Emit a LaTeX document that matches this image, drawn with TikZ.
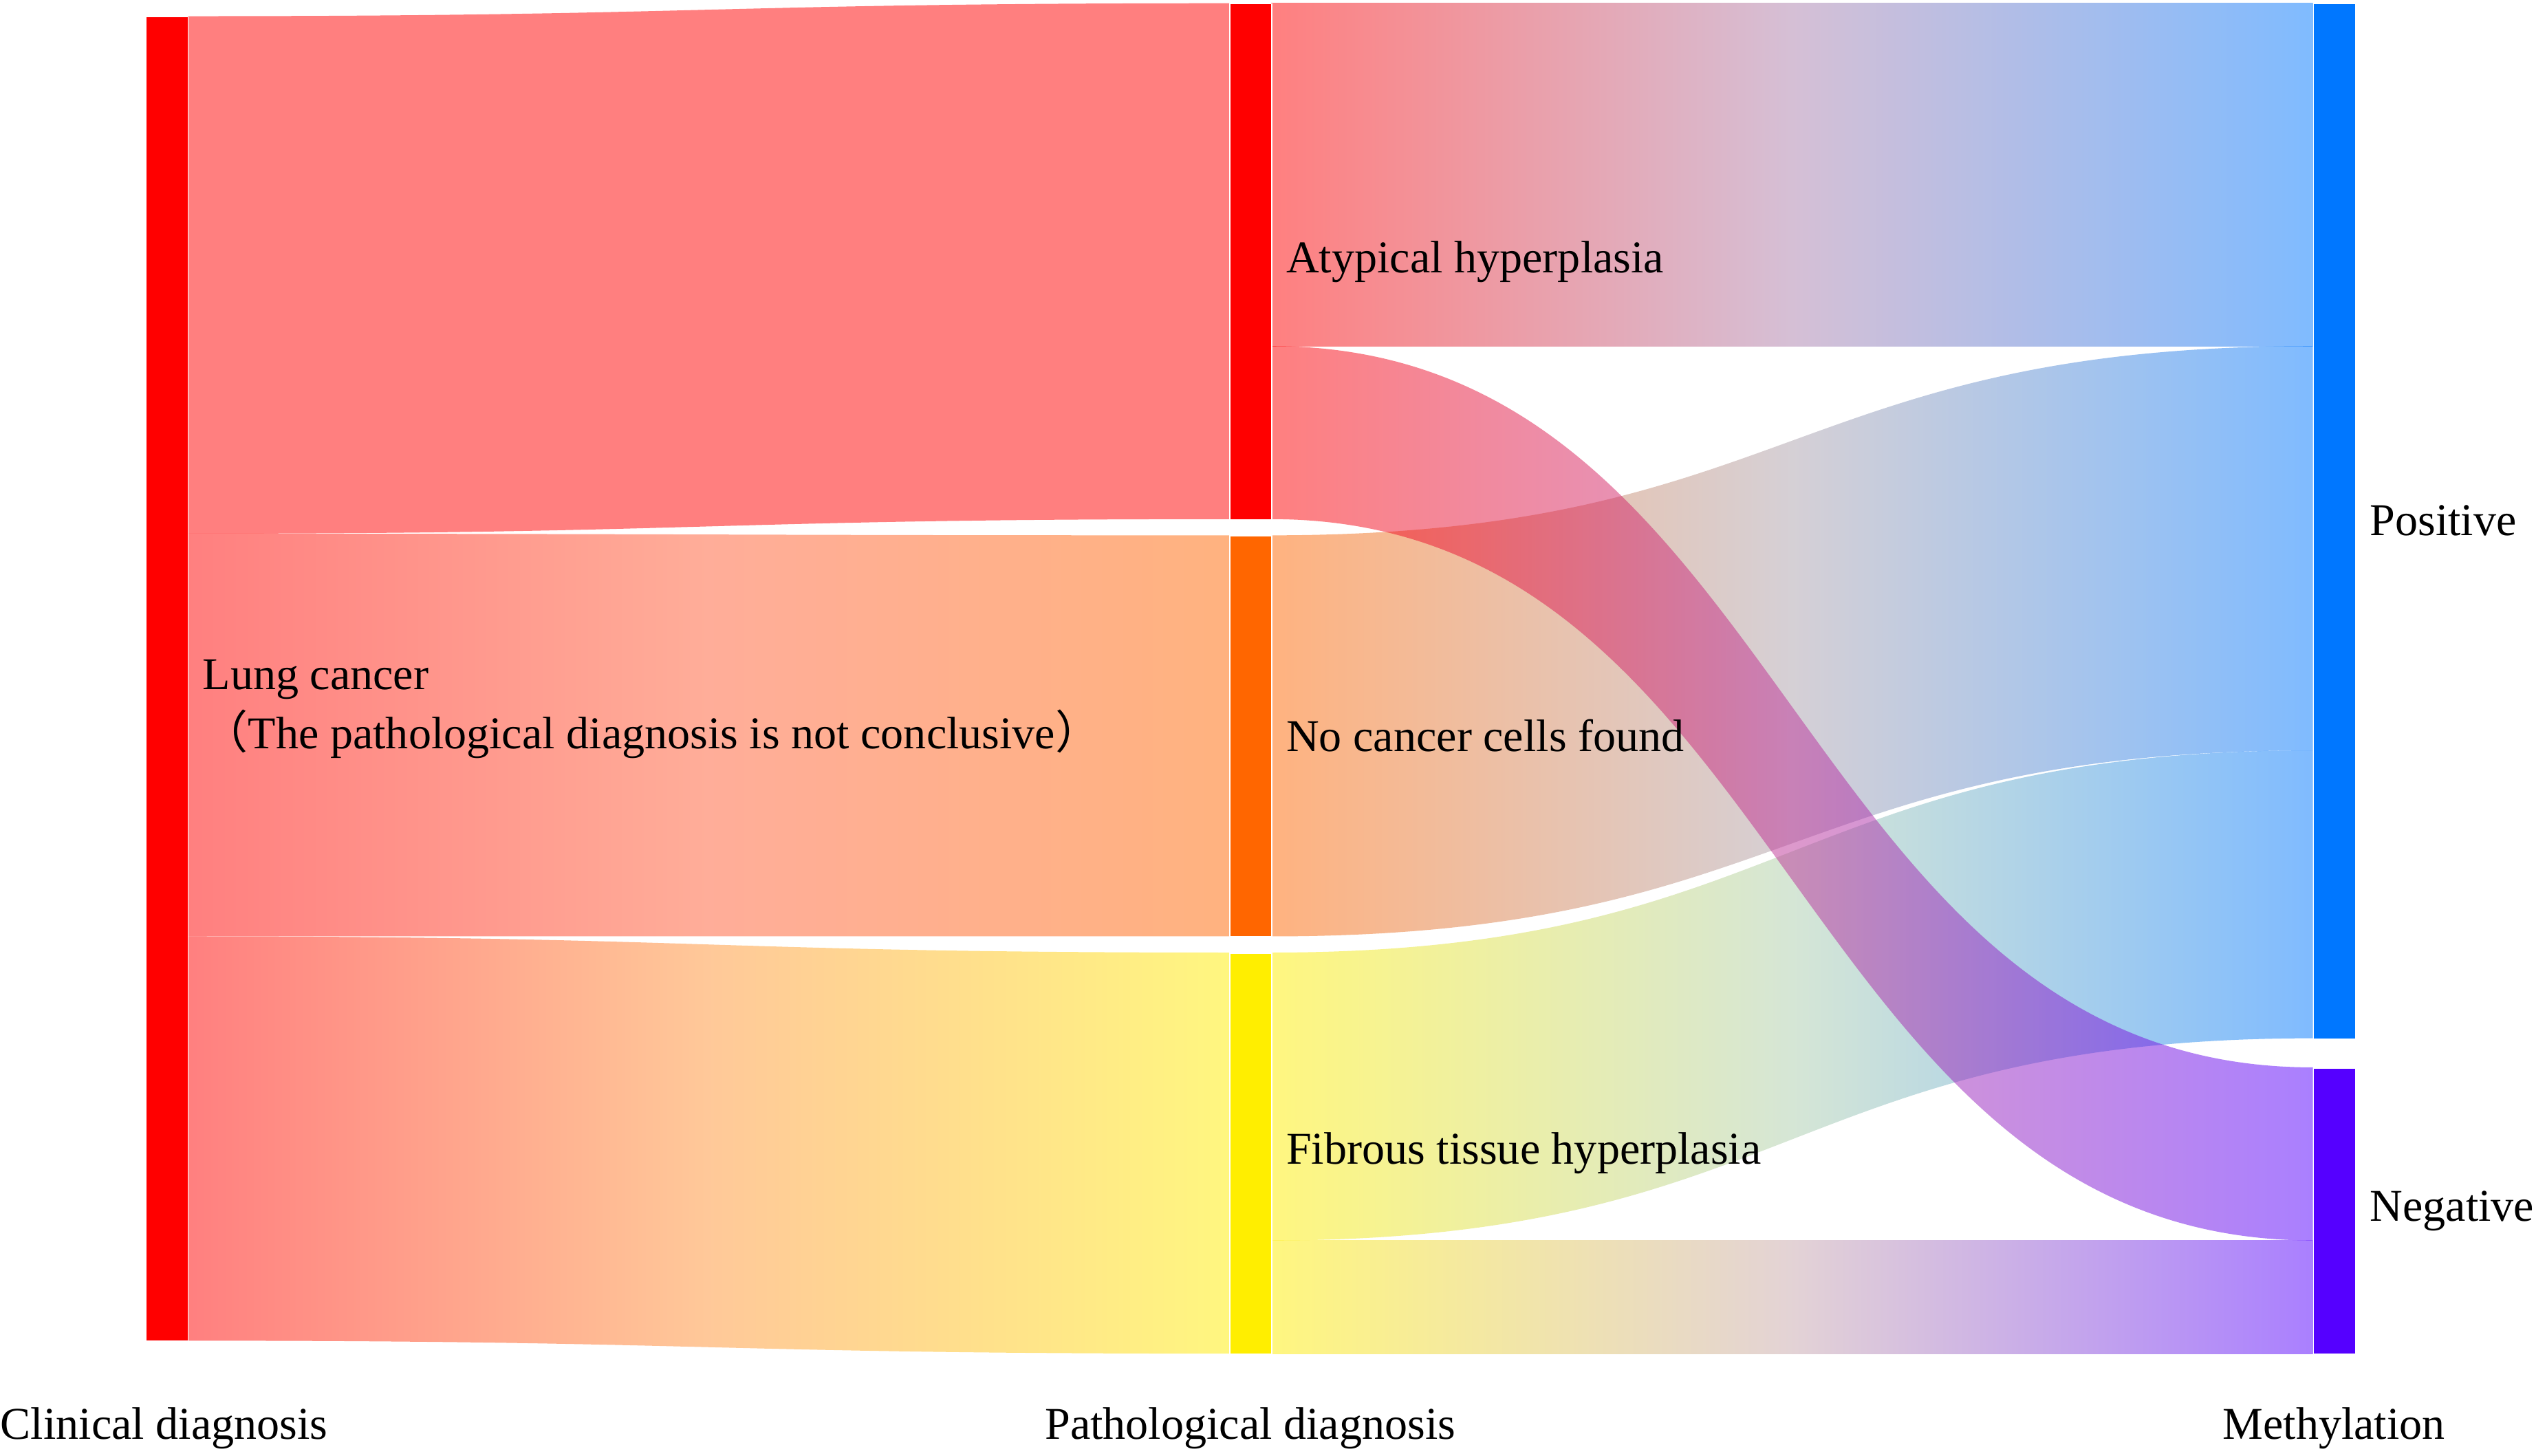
\documentclass[tikz,border=0pt]{standalone}
\usepackage{fontspec}
\setmainfont{Liberation Serif}
\newfontfamily\cjk{Noto Sans CJK SC}
\definecolor{cRed}{HTML}{FF0000}
\definecolor{cOrange}{HTML}{FF6600}
\definecolor{cYellow}{HTML}{FFEE00}
\definecolor{cBlue}{HTML}{0077FF}
\definecolor{cPurple}{HTML}{5500FF}
% band between two bars: x1, top1, bottom1, x2, top2, bottom2, colour1, colour2, middle
\newcommand{\flowband}[9]{%
  \shade[left color=#7, right color=#8, middle color={#9}, fill opacity=0.5]
    (#1,#2) .. controls ({(#1+#4)/2},#2) and ({(#1+#4)/2},#5) .. (#4,#5)
    -- (#4,#6) .. controls ({(#1+#4)/2},#6) and ({(#1+#4)/2},#3) .. (#1,#3) -- cycle;}
\tikzset{
  bar/.style={draw=white, line width=0.4pt, inner sep=0pt, minimum width=5.2mm, anchor=north west},
  lbl/.style={font=\fontsize{16}{19}\selectfont, inner sep=0pt, anchor=west},
  axis/.style={font=\fontsize{16}{19}\selectfont, inner sep=0pt}
}
\begin{document}
\begin{tikzpicture}[x=0.2mm, y=-0.2mm]
  \useasboundingbox (0,0) rectangle (1568,900);
  % flows
  \flowband{116}{10}{330}{760}{2}{321}{cRed}{cRed}{cRed}
  \flowband{116}{330}{579}{760}{331}{579}{cRed}{cOrange}{cRed!50!cOrange!80!white}
  \flowband{116}{579}{829}{760}{589}{837}{cRed}{cYellow}{cRed!50!cYellow!80!white}
  \flowband{786}{2}{214}{1430}{2}{214}{cRed}{cBlue}{cRed!50!cBlue!65!white}
  \flowband{786}{331}{579}{1430}{214}{464}{cOrange}{cBlue}{cOrange!50!cBlue!65!white}
  \flowband{786}{589}{767}{1430}{464}{642}{cYellow}{cBlue}{cYellow!50!cBlue!65!white}
  \flowband{786}{767}{837}{1430}{767}{837}{cYellow}{cPurple}{cYellow!50!cPurple!65!white}
  \flowband{786}{214}{321}{1430}{660}{767}{cRed}{cPurple}{cRed!50!cPurple!80!white}
  % bars
  \node[bar, fill=cRed, minimum height=819*0.2mm] (clin) at (90,10) {};
  \node[bar, fill=cRed, minimum height=319*0.2mm] (atyp) at (760,2) {};
  \node[bar, fill=cOrange, minimum height=248*0.2mm] (noca) at (760,331) {};
  \node[bar, fill=cYellow, minimum height=248*0.2mm] (fibr) at (760,589) {};
  \node[bar, fill=cBlue, minimum height=640*0.2mm] (posi) at (1430,2) {};
  \node[bar, fill=cPurple, minimum height=177*0.2mm] (nega) at (1430,660) {};
  % labels
  \node[lbl] (lung) at (125,420) {Lung cancer};
  \node[lbl] (lung2) at (125,454) {{\cjk （}The pathological diagnosis is not conclusive{\cjk ）}};
  \node[lbl] (atypl) at (795,162) {Atypical hyperplasia};
  \node[lbl] (nocal) at (795,455) {No cancer cells found};
  \node[lbl] (fibrl) at (795,713) {Fibrous tissue hyperplasia};
  \node[lbl] (posil) at (1465,322) {Positive};
  \node[lbl] (negal) at (1465,749) {Negative};
  \node[axis, anchor=west] (ax1) at (0,883) {Clinical diagnosis};
  \node[axis] (ax2) at (773,883) {Pathological diagnosis};
  \node[axis] (ax3) at (1443,883) {Methylation};
\end{tikzpicture}
\end{document}
